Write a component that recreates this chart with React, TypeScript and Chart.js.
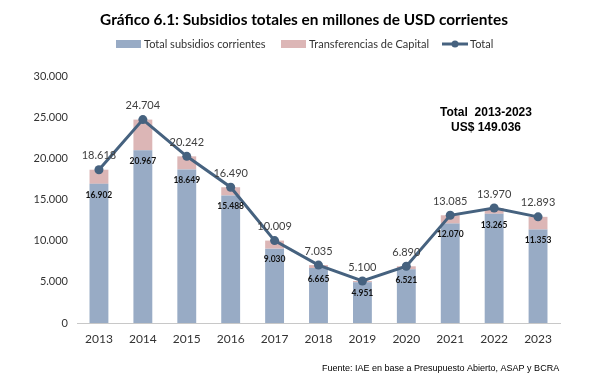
import React, { useEffect, useRef } from "react";
import { Chart, registerables } from "chart.js";

Chart.register(...registerables);

const years = ["2013", "2014", "2015", "2016", "2017", "2018", "2019", "2020", "2021", "2022", "2023"];
const corrientes = [16902, 20967, 18649, 15488, 9030, 6665, 4951, 6521, 12070, 13265, 11353];
const totales = [18618, 24704, 20242, 16490, 10009, 7035, 5100, 6890, 13085, 13970, 12893];
const capital = totales.map((t, i) => t - corrientes[i]);
const yTicks = { min: 0, max: 30000, step: 5000 };

const title = "Gráfico 6.1: Subsidios totales en millones de USD corrientes";
const legendNames = ["Total subsidios corrientes", "Transferencias de Capital", "Total"];
const noteLines = ["Total  2013-2023", "US$ 149.036"];
const source = "Fuente: IAE en base a Presupuesto Abierto, ASAP y BCRA";

const BLUE = "#98abc5";
const PINK = "#dcb6b6";
const LINE = "#46627f";

const fmt = (v: number) => v.toLocaleString("de-DE");

const overlay = {
  id: "overlay",
  afterDatasetsDraw(chart: any) {
    const ctx = chart.ctx;
    ctx.save();
    const lineMeta = chart.getDatasetMeta(2);
    ctx.fillStyle = "#404040";
    ctx.font = "11px Lato";
    ctx.textAlign = "center";
    ctx.textBaseline = "middle";
    lineMeta.data.forEach((p: any, i: number) => {
      ctx.fillText(fmt(totales[i]), p.x, p.y - 14);
    });
    const barMeta = chart.getDatasetMeta(0);
    ctx.fillStyle = "#111";
    ctx.font = "bold 8.5px Lato";
    barMeta.data.forEach((b: any, i: number) => {
      ctx.fillText(fmt(corrientes[i]), b.x, b.y + 11);
    });
    ctx.restore();
  },
  afterDraw(chart: any) {
    const ctx = chart.ctx;
    ctx.save();
    ctx.fillStyle = "#000";
    ctx.font = "bold 15.4px Lato";
    ctx.textAlign = "center";
    ctx.textBaseline = "middle";
    ctx.fillText(title, 304, 20);
    ctx.font = "11px Lato";
    ctx.textAlign = "left";
    const ly = 44;
    ctx.fillStyle = BLUE;
    ctx.fillRect(116, ly - 4, 25, 8);
    ctx.fillStyle = "#333";
    ctx.fillText(legendNames[0], 144, ly);
    ctx.fillStyle = PINK;
    ctx.fillRect(281, ly - 4, 25, 8);
    ctx.fillStyle = "#333";
    ctx.fillText(legendNames[1], 309, ly);
    ctx.strokeStyle = LINE;
    ctx.lineWidth = 3;
    ctx.beginPath();
    ctx.moveTo(442, ly);
    ctx.lineTo(468, ly);
    ctx.stroke();
    ctx.fillStyle = LINE;
    ctx.beginPath();
    ctx.arc(455, ly, 3.5, 0, Math.PI * 2);
    ctx.fill();
    ctx.fillStyle = "#333";
    ctx.fillText(legendNames[2], 470, ly);
    ctx.fillStyle = "#000";
    ctx.font = "bold 12px 'Liberation Sans', Arial";
    ctx.textAlign = "center";
    ctx.fillText(noteLines[0], 486, 113);
    ctx.fillText(noteLines[1], 486, 128);
    ctx.font = "9px 'Liberation Sans', Arial";
    ctx.textAlign = "left";
    ctx.fillText(source, 322, 369);
    ctx.restore();
  },
};

export default function App() {
  const ref = useRef<HTMLCanvasElement | null>(null);
  useEffect(() => {
    document.body.style.margin = "0";
    const chart = new Chart(ref.current as HTMLCanvasElement, {
      type: "bar",
      data: {
        labels: years,
        datasets: [
          {
            type: "bar",
            label: legendNames[0],
            data: corrientes,
            backgroundColor: BLUE,
            stack: "bars",
            order: 1,
            barPercentage: 0.43,
            categoryPercentage: 1,
          },
          {
            type: "bar",
            label: legendNames[1],
            data: capital,
            backgroundColor: PINK,
            stack: "bars",
            order: 2,
            barPercentage: 0.43,
            categoryPercentage: 1,
          },
          {
            type: "line",
            label: legendNames[2],
            data: totales,
            borderColor: LINE,
            backgroundColor: LINE,
            borderWidth: 3,
            pointRadius: 4.5,
            pointBackgroundColor: LINE,
            pointBorderWidth: 0,
            tension: 0,
            stack: "line",
            order: 0,
          } as any,
        ],
      },
      options: {
        responsive: false,
        animation: false,
        layout: { padding: { left: 0, right: 48, top: 76, bottom: 0 } },
        plugins: {
          legend: { display: false },
          title: { display: false },
          tooltip: { enabled: false },
        },
        scales: {
          x: {
            stacked: true,
            grid: { display: false, drawTicks: false },
            border: { display: true, color: "#c8c8c8", width: 1 },
            ticks: { color: "#333", font: { family: "Lato", size: 12 }, padding: 9 },
            afterFit: (s: any) => { s.height = 67; },
          },
          y: {
            stacked: true,
            min: yTicks.min,
            max: yTicks.max,
            grid: { display: false, drawTicks: false },
            border: { display: false },
            ticks: {
              stepSize: yTicks.step,
              color: "#333",
              font: { family: "Lato", size: 11 },
              padding: 9,
              callback: (v: any) => fmt(Number(v)),
            },
            afterFit: (s: any) => { s.width = 77; },
          },
        },
      },
      plugins: [overlay],
    });
    return () => chart.destroy();
  }, []);
  return <canvas ref={ref} width={608} height={390} style={{ display: "block", width: 608, height: 390 }} />;
}
